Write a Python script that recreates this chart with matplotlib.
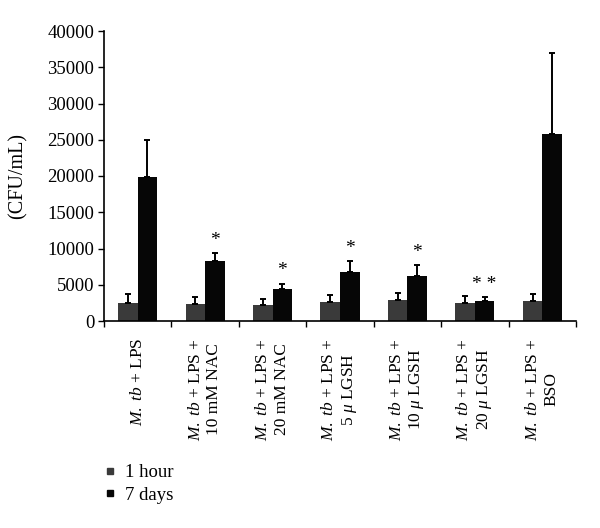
import matplotlib
matplotlib.use("Agg")
import matplotlib.pyplot as plt
from matplotlib.lines import Line2D
import numpy as np

plt.rcParams['font.family'] = ['Liberation Serif', 'DejaVu Serif']
plt.rcParams['mathtext.fontset'] = 'custom'
plt.rcParams['mathtext.rm'] = 'Liberation Serif'
plt.rcParams['mathtext.it'] = 'Liberation Serif:italic'

categories = [
    r"$\mathit{M.\ tb}$ + LPS",
    "$\\mathit{M.\\ tb}$ + LPS +\n10 mM NAC",
    "$\\mathit{M.\\ tb}$ + LPS +\n20 mM NAC",
    "$\\mathit{M.\\ tb}$ + LPS +\n5 $\\mu$ LGSH",
    "$\\mathit{M.\\ tb}$ + LPS +\n10 $\\mu$ LGSH",
    "$\\mathit{M.\\ tb}$ + LPS +\n20 $\\mu$ LGSH",
    "$\\mathit{M.\\ tb}$ + LPS +\nBSO",
]
hour1 = [2520, 2350, 2200, 2580, 2850, 2480, 2760]
hour1_err = [1200, 1000, 830, 1050, 1010, 970, 1010]
days7 = [19900, 8280, 4460, 6720, 6250, 2720, 25790]
days7_err = [5070, 1060, 690, 1600, 1470, 630, 11130]
stars = ["", "*", "*", "*", "*", "* *", ""]
yticks = [0, 5000, 10000, 15000, 20000, 25000, 30000, 35000, 40000]

fig = plt.figure(figsize=(6.0, 5.28), dpi=100)
ax = fig.add_axes([104/600, 1-321/528, (576-104)/600, (321-31)/528])

x = np.arange(len(categories))
w = 0.29
c1 = '#3a3a3a'
c2 = '#060606'
ax.bar(x - w/2, hour1, w, color=c1, zorder=2)
ax.bar(x + w/2, days7, w, color=c2, zorder=2)
ax.errorbar(x - w/2, hour1, yerr=[np.zeros(len(x)), hour1_err], fmt='none',
            ecolor='black', elinewidth=1.4, capsize=2.2, capthick=1.4, zorder=3)
ax.errorbar(x + w/2, days7, yerr=[np.zeros(len(x)), days7_err], fmt='none',
            ecolor='black', elinewidth=1.4, capsize=2.2, capthick=1.4, zorder=3)

for i, s in enumerate(stars):
    if s:
        ax.annotate(s, (x[i] + w/2, days7[i] + days7_err[i]), xytext=(0, 3),
                    textcoords='offset points', ha='center', va='bottom',
                    fontsize=14)

ax.set_xlim(-0.5, len(categories) - 0.5)
ax.set_ylim(0, 40000)
ax.set_yticks(yticks)
ax.set_yticklabels([str(v) for v in yticks], fontsize=13.5)
ax.set_xticks(np.arange(len(categories) + 1) - 0.5)
ax.set_xticklabels([])
ax.set_xticks(x, minor=True)
ax.set_xticklabels(categories, minor=True, rotation=90, fontsize=12.5,
                   multialignment='center', va='top', ha='center')
ax.tick_params(axis='x', which='minor', length=0, pad=12)
ax.tick_params(axis='x', which='major', length=4, direction='out', width=1)
ax.tick_params(axis='y', length=4, direction='out', width=1, pad=3)
ax.spines['top'].set_visible(False)
ax.spines['right'].set_visible(False)
ax.spines['left'].set_linewidth(1.2)
ax.spines['bottom'].set_linewidth(1.2)
ax.set_ylabel('(CFU/mL)', fontsize=14.5)
ax.yaxis.set_label_coords(-(104 - 28) / 472, 0.5)

handles = [Line2D([], [], marker='s', linestyle='none', color=c1, markersize=5),
           Line2D([], [], marker='s', linestyle='none', color=c2, markersize=5)]
fig.legend(handles, ['1 hour', '7 days'], loc='upper left',
           bbox_to_anchor=(101/600, 1-464/528), frameon=False, fontsize=13.5,
           handletextpad=0.3, handlelength=1.0, labelspacing=0.3,
           borderaxespad=0, borderpad=0)

fig.savefig('out.png', dpi=100)
